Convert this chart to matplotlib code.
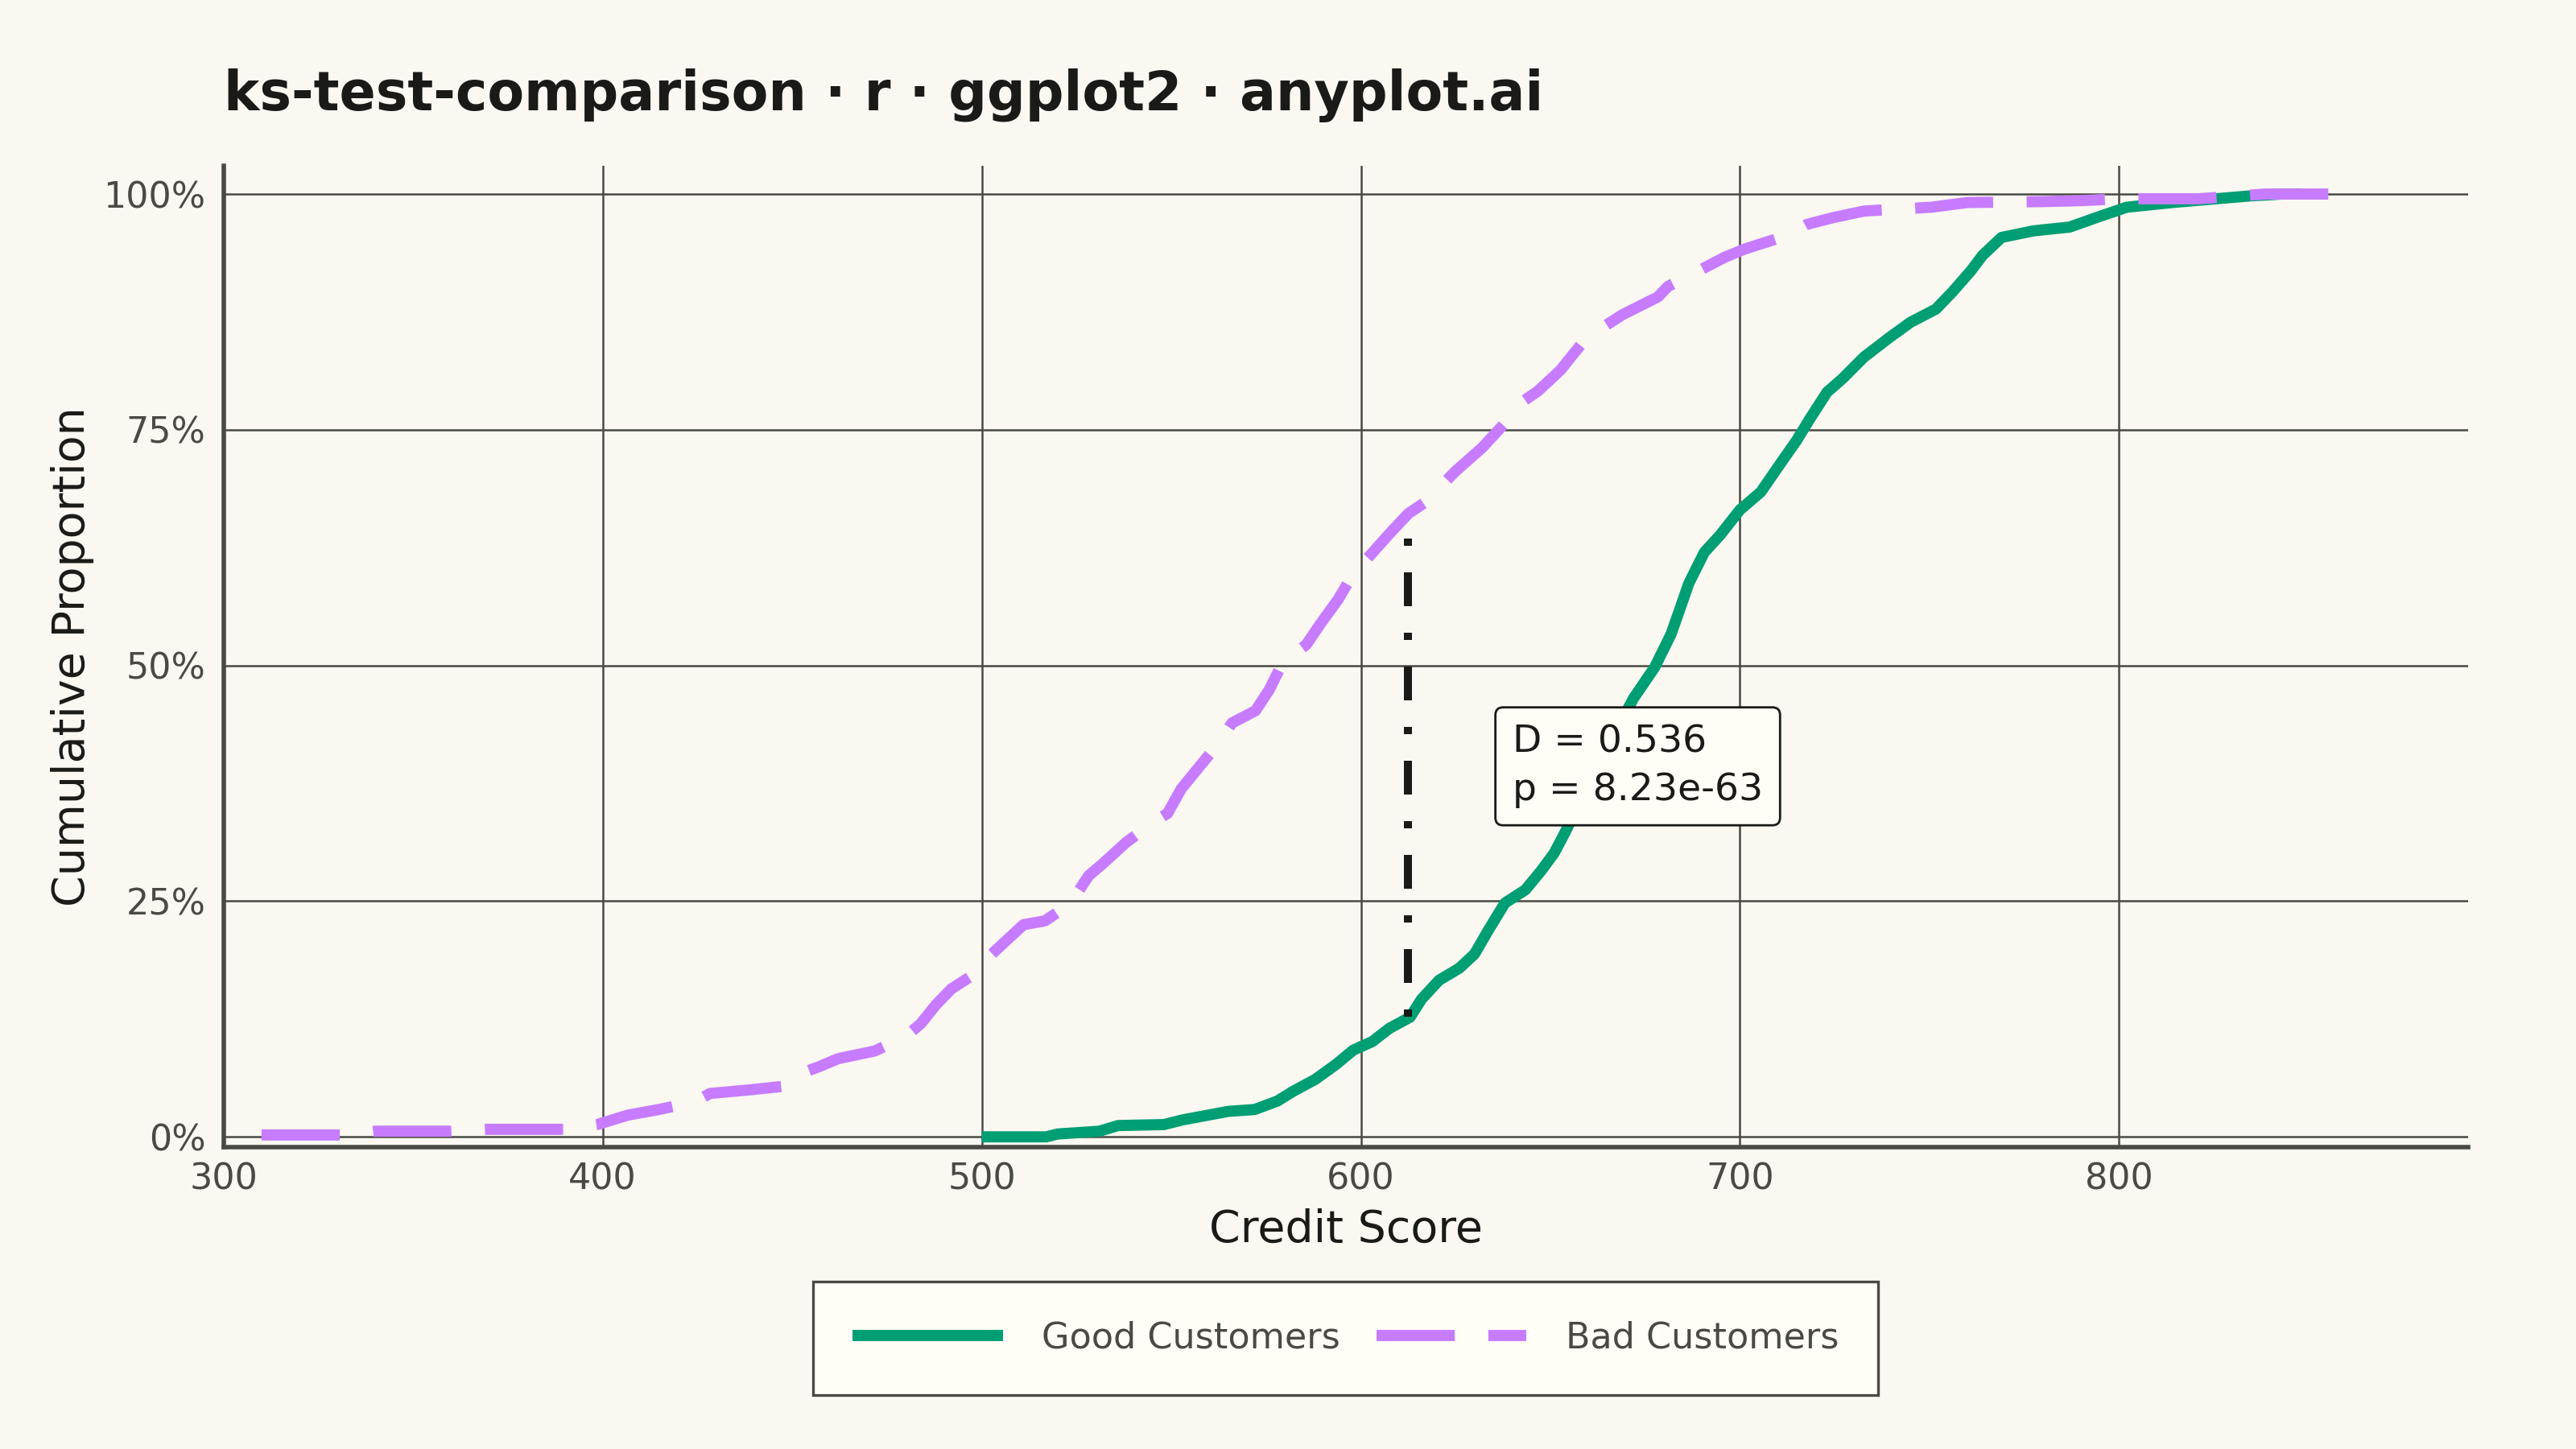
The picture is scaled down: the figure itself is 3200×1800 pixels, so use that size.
import matplotlib
matplotlib.use("Agg")
import matplotlib.pyplot as plt
from matplotlib.ticker import PercentFormatter

# ECDF of credit scores
good_scores = [500, 517, 520, 531, 536, 548, 553, 561, 565, 572, 578, 582, 588,
               593.5, 598, 603, 607.5, 613, 616, 620.6, 626, 630, 633.6, 638,
               643.4, 647.5, 651, 654, 662, 671.9, 677.5, 681.8, 684, 686.5,
               690.6, 694.7, 700, 705.5, 711, 715, 718.5, 723, 727, 732.7,
               739.5, 745, 751.7, 756, 761, 764, 769, 777.5, 787, 794, 802,
               814, 834.5, 843, 848]
good_ecdf = [0.0, 0.0, 0.003, 0.006, 0.012, 0.013, 0.018, 0.024, 0.027, 0.029,
             0.038, 0.048, 0.061, 0.077, 0.092, 0.101, 0.115, 0.127, 0.146,
             0.166, 0.179, 0.194, 0.219, 0.248, 0.262, 0.282, 0.301, 0.324,
             0.39, 0.465, 0.498, 0.533, 0.558, 0.587, 0.62, 0.638, 0.665,
             0.684, 0.716, 0.739, 0.762, 0.79, 0.804, 0.827, 0.848, 0.864,
             0.878, 0.896, 0.919, 0.935, 0.954, 0.961, 0.965, 0.975, 0.986,
             0.991, 0.998, 1.0, 1.0]

bad_scores = [310, 331, 340, 360, 370, 390, 398.5, 406.6, 414.8, 424.3, 428.3,
              439.2, 448.6, 451.4, 456.8, 462.2, 471.7, 479.8, 483.9, 487.9,
              492, 497.4, 499, 504, 511, 516.6, 523.3, 528.2, 532, 538, 545.3,
              549, 552.6, 558.7, 562.4, 566, 572.2, 575.8, 579.5, 585.6, 589.3,
              594, 597.8, 602.7, 607.6, 612.5, 617.3, 624.7, 632, 638, 642,
              646.7, 652.6, 658, 662, 669, 678.4, 681, 689.3, 696, 701.5,
              712.4, 717.8, 724.6, 732.8, 750.4, 760, 780, 790, 800.5, 821,
              838.6, 860]
bad_ecdf = [0.002, 0.002, 0.006, 0.006, 0.008, 0.008, 0.013, 0.023, 0.029,
            0.037, 0.046, 0.05, 0.054, 0.066, 0.074, 0.083, 0.091, 0.106, 0.12,
            0.14, 0.157, 0.171, 0.18, 0.199, 0.225, 0.229, 0.247, 0.277, 0.29,
            0.312, 0.334, 0.343, 0.369, 0.399, 0.417, 0.439, 0.452, 0.474,
            0.504, 0.522, 0.544, 0.57, 0.596, 0.618, 0.64, 0.661, 0.674, 0.705,
            0.731, 0.757, 0.778, 0.791, 0.813, 0.84, 0.854, 0.872, 0.891,
            0.902, 0.919, 0.933, 0.942, 0.956, 0.968, 0.975, 0.982, 0.986,
            0.991, 0.992, 0.993, 0.995, 0.995, 1.0, 1.0]

# KS statistic and where it happens
ks_x = 612.5
ks_low = 0.127
ks_d = 0.536
ks_p = "8.23e-63"

x_ticks = [300, 400, 500, 600, 700, 800]
y_ticks = [0, 0.25, 0.5, 0.75, 1.0]

bg = "#FAF8F1"
ink = "#1A1A17"
soft = "#4A4A44"
green = "#009E73"
purple = "#C77CFF"

fig = plt.figure(figsize=(16, 9), dpi=200, facecolor=bg)
ax = fig.add_axes([0.0868, 0.2086, 0.8712, 0.677])
ax.set_facecolor(bg)

ax.plot(good_scores, good_ecdf, color=green, lw=5.0, solid_capstyle="butt",
        label="Good Customers", zorder=3)
ax.plot(bad_scores, bad_ecdf, color=purple, lw=5.0, linestyle=(0, (7.0, 3.0)),
        label="Bad Customers", zorder=3)

# vertical segment showing the D statistic
ax.plot([ks_x, ks_x], [ks_low, ks_low + ks_d], color=ink, lw=3.6,
        linestyle=(0, (0.9, 3.3, 4.2, 3.3)), zorder=4)

ax.text(640, 0.393, f"D = {ks_d:.3f}\np = {ks_p}", fontsize=17, color=ink,
        ha="left", va="center", linespacing=1.4, zorder=6,
        bbox=dict(boxstyle="round,pad=0.45,rounding_size=0.2",
                  fc="#FFFDF6", ec=ink, lw=1.0))

ax.set_xlim(300, 892)
ax.set_ylim(-0.0105, 1.03)
ax.set_xticks(x_ticks)
ax.set_yticks(y_ticks)
ax.yaxis.set_major_formatter(PercentFormatter(xmax=1, decimals=0))
ax.tick_params(length=0, labelsize=16, labelcolor=soft)
ax.tick_params(axis="y", pad=8)
ax.tick_params(axis="x", pad=7)
ax.grid(True, color=soft, lw=0.9, zorder=1)
ax.set_axisbelow(True)

for side in ["top", "right"]:
    ax.spines[side].set_visible(False)
for side in ["left", "bottom"]:
    ax.spines[side].set_color(soft)
    ax.spines[side].set_linewidth(2.0)

ax.set_xlabel("Credit Score", fontsize=20, color=ink, labelpad=5)
ax.set_ylabel("Cumulative Proportion", fontsize=20, color=ink, labelpad=4)

fig.text(0.0868, 0.924, "ks-test-comparison · r · ggplot2 · anyplot.ai",
         fontsize=24, fontweight="bold", color=ink, ha="left", va="baseline")

leg = fig.legend(*ax.get_legend_handles_labels(), loc="center",
                 bbox_to_anchor=(0.5224, 0.0765), ncol=2, fontsize=16,
                 frameon=True, fancybox=False, borderpad=1.1,
                 handlelength=4.2, handletextpad=1.1, columnspacing=1.0)
leg.get_frame().set_facecolor("#FFFDF6")
leg.get_frame().set_edgecolor(soft)
leg.get_frame().set_linewidth(1.2)
leg.get_frame().set_alpha(1)
for t in leg.get_texts():
    t.set_color(soft)

fig.savefig("out.png", dpi=200, facecolor=bg)
